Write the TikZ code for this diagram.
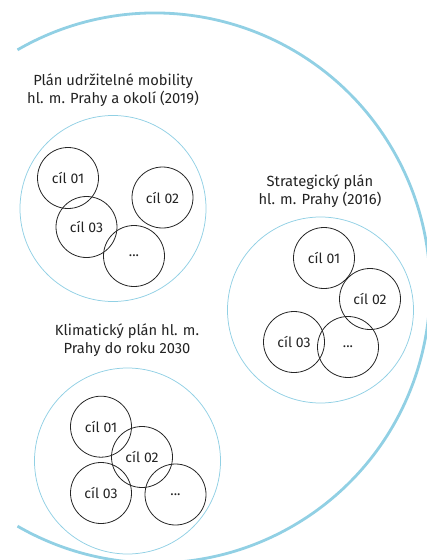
\documentclass[tikz,border=0pt]{standalone}
\usepackage{fontspec}
\setmainfont{Fira Sans}
\definecolor{lblue}{RGB}{145,208,228}
\definecolor{txt}{RGB}{35,35,35}
\begin{document}
\begin{tikzpicture}[x=1pt,y=-1pt,
  outer/.style={draw=lblue,line width=2.8pt},
  plan/.style={circle,draw=lblue,line width=0.75pt,minimum size=186pt,inner sep=0pt},
  goal/.style={circle,draw=black!85,line width=0.8pt,minimum size=61pt,inner sep=0pt,text=txt,font=\fontsize{14}{15}\selectfont},
  title/.style={align=center,text=txt,font=\fontsize{14.7}{18}\selectfont,inner sep=0pt}]
\useasboundingbox (0,0) rectangle (427,560);
% outer arc
\coordinate (oc) at (155,288);
\draw[outer] ([shift={(120:275pt)}]oc) arc[start angle=120,end angle=-120,radius=275pt];
% plan circles
\node[plan] (p1) at (113,208.5) {};
\node[plan] (p2) at (320.5,310) {};
\node[plan] (p3) at (127.5,461) {};
% titles
\node[title] (t1) at (113,90) {Plán udržitelné mobility\\hl. m. Prahy a okolí (2019)};
\node[title] (t2) at (320,191) {Strategický plán\\hl. m. Prahy (2016)};
\node[title] (t3) at (127,340) {Klimatický plán hl. m.\\Prahy do roku 2030};
% goals plan 1
\node[goal] (a1) at (68,178) {cíl 01};
\node[goal] (a2) at (162.5,197.5) {cíl 02};
\node[goal] (a3) at (86.5,227) {cíl 03};
\node[goal] (a4) at (134,256) {...};
% goals plan 2
\node[goal] (b1) at (324,258) {cíl 01};
\node[goal] (b2) at (370,299) {cíl 02};
\node[goal] (b3) at (294,342) {cíl 03};
\node[goal] (b4) at (348,347) {...};
% goals plan 3
\node[goal] (c1) at (101,426.7) {cíl 01};
\node[goal] (c2) at (142,457) {cíl 02};
\node[goal] (c3) at (101,493) {cíl 03};
\node[goal] (c4) at (175.5,494.5) {...};
\end{tikzpicture}
\end{document}
